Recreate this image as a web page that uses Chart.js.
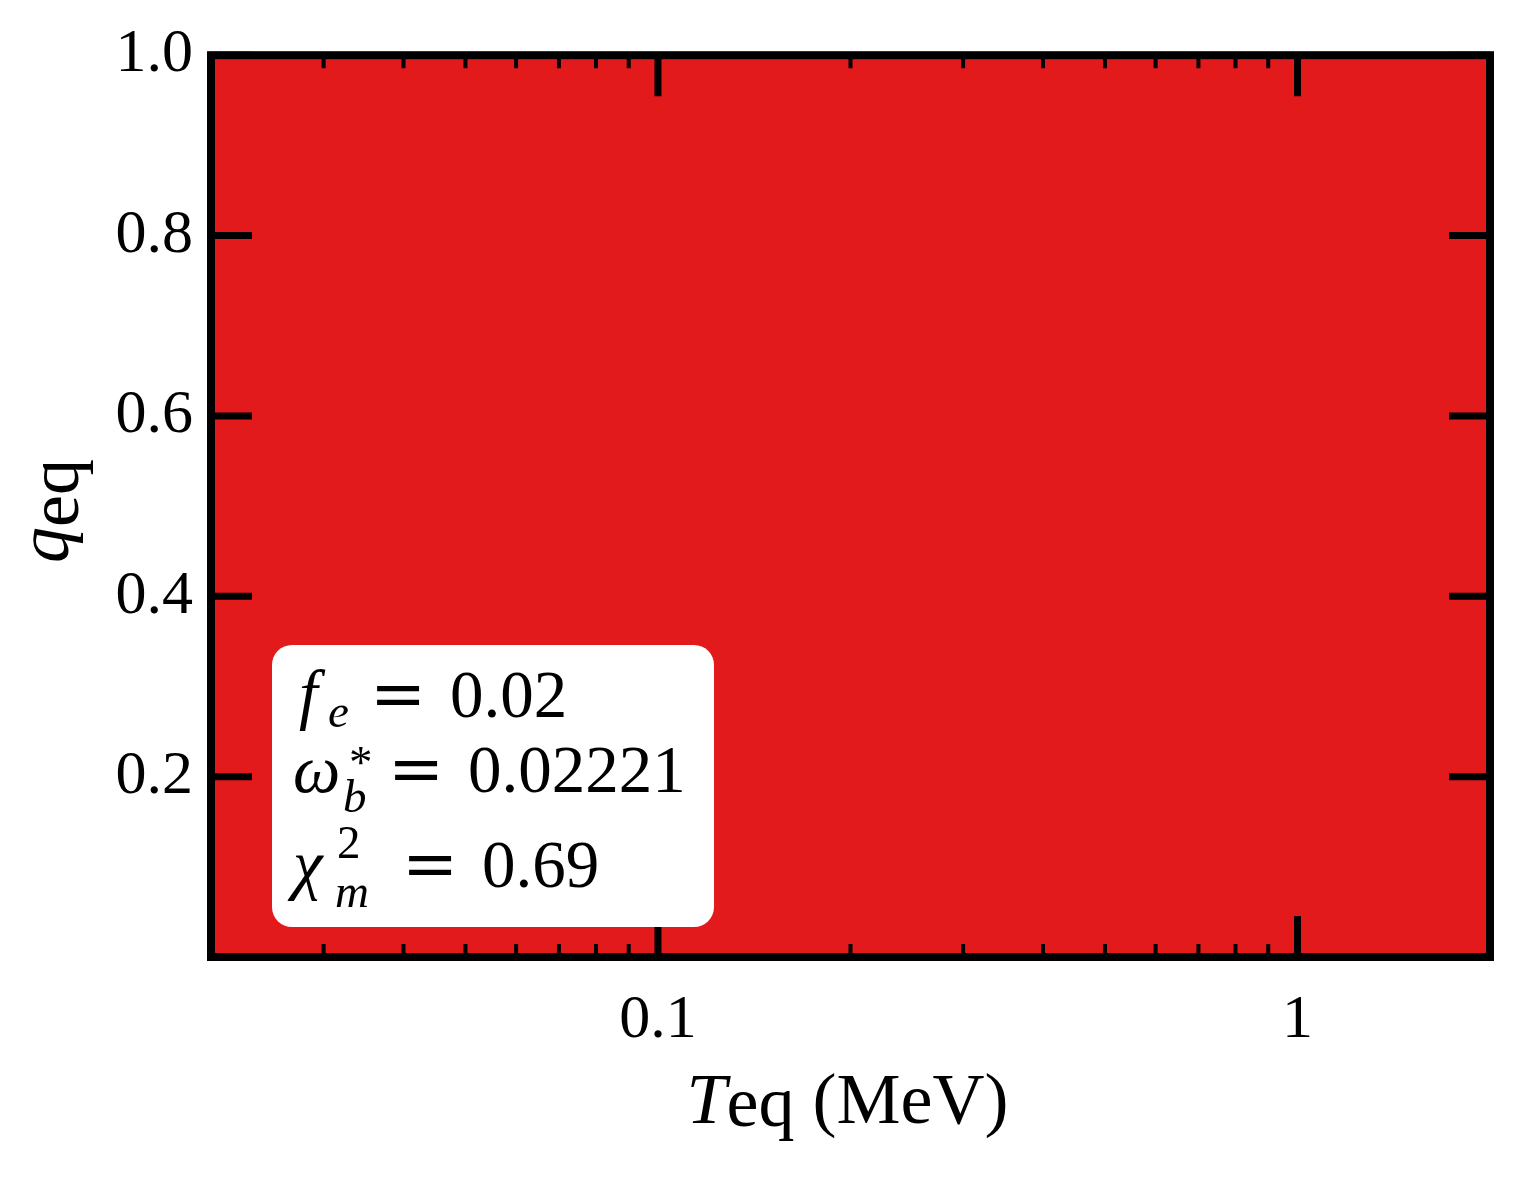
<!DOCTYPE html>
<html>
<head>
<meta charset="utf-8">
<script src="https://cdn.jsdelivr.net/npm/chart.js@4/dist/chart.umd.min.js"></script>
<style>
  html, body { margin: 0; padding: 0; background: #ffffff; }
  #wrap { width: 1519px; height: 1179px; }
</style>
</head>
<body>
<div id="wrap"><canvas id="c" width="1519" height="1179"></canvas></div>
<script>
// ---- data ----
const tEq = [0.02, 2];            // x extent of the allowed region (MeV)
const qUpper = [1, 1];            // upper boundary of region
const qLower = [0, 0];            // lower boundary of region
const xMajorTicks = [0.1, 1];
const xTickLabels = ['0.1', '1'];
const xMinorTicks = [0.03, 0.04, 0.05, 0.06, 0.07, 0.08, 0.09, 0.2, 0.3, 0.4, 0.5, 0.6, 0.7, 0.8, 0.9];
const yTicks = [0.2, 0.4, 0.6, 0.8, 1.0];
const yTickLabels = ['0.2', '0.4', '0.6', '0.8', '1.0'];
const paramFe = '0.02';
const paramOmegaB = '0.02221';
const paramChi2 = '0.69';

const RED = '#e31a1c';
const SERIF = '"Liberation Serif", "DejaVu Serif", serif';

function txt(ctx, s, x, y, size, italic, family) {
  ctx.font = (italic ? 'italic ' : '') + size + 'px ' + (family || SERIF);
  ctx.fillText(s, x, y);
  return ctx.measureText(s).width;
}

const decor = {
  id: 'decor',
  afterDraw(chart) {
    const ctx = chart.ctx;
    const a = chart.chartArea;
    const xs = chart.scales.x, ys = chart.scales.y;
    ctx.save();
    ctx.fillStyle = '#000';
    ctx.strokeStyle = '#000';
    // ticks
    const majL = 41, minL = 13;
    ctx.lineCap = 'butt';
    ctx.lineWidth = 7;
    xMajorTicks.forEach(v => {
      const px = xs.getPixelForValue(v);
      ctx.beginPath();
      ctx.moveTo(px, a.bottom); ctx.lineTo(px, a.bottom - majL);
      ctx.moveTo(px, a.top); ctx.lineTo(px, a.top + majL);
      ctx.stroke();
    });
    yTicks.forEach(v => {
      const py = ys.getPixelForValue(v);
      ctx.beginPath();
      ctx.moveTo(a.left, py); ctx.lineTo(a.left + majL, py);
      ctx.moveTo(a.right, py); ctx.lineTo(a.right - majL, py);
      ctx.stroke();
    });
    ctx.lineWidth = 4;
    xMinorTicks.forEach(v => {
      const px = xs.getPixelForValue(v);
      ctx.beginPath();
      ctx.moveTo(px, a.bottom); ctx.lineTo(px, a.bottom - minL);
      ctx.moveTo(px, a.top); ctx.lineTo(px, a.top + minL);
      ctx.stroke();
    });
    // frame
    ctx.lineWidth = 8;
    ctx.lineJoin = 'miter';
    ctx.strokeRect(a.left, a.top, a.right - a.left, a.bottom - a.top);

    // annotation box
    const bx = a.left + 61, by = 645, bw = 442, bh = 282, r = 20;
    ctx.fillStyle = '#fff';
    ctx.beginPath();
    ctx.roundRect(bx, by, bw, bh, r);
    ctx.fill();
    ctx.fillStyle = '#000';
    ctx.textBaseline = 'alphabetic';
    ctx.textAlign = 'left';
    const M = 67, S = 47;
    const x0 = bx + 21;
    const EQF = '"DejaVu Serif", serif';
    // line 1
    txt(ctx, 'f', x0 + 6, 717, M, true);
    txt(ctx, 'e', x0 + 35, 727, S, true);
    txt(ctx, '=', x0 + 77, 717, M, false, EQF);
    txt(ctx, paramFe, x0 + 157, 717, M, false);
    // line 2
    txt(ctx, '\u03c9', x0, 792, M, true);
    txt(ctx, '*', x0 + 56, 778, S, false);
    txt(ctx, 'b', x0 + 50, 812, S, true);
    txt(ctx, '=', x0 + 95, 792, M, false, EQF);
    txt(ctx, paramOmegaB, x0 + 175, 792, M, false);
    // line 3
    txt(ctx, '\u03c7', x0, 887, M, true);
    txt(ctx, '2', x0 + 44, 858, S, false);
    txt(ctx, 'm', x0 + 42, 907, S, true);
    txt(ctx, '=', x0 + 109, 887, M, false, EQF);
    txt(ctx, paramChi2, x0 + 189, 887, M, false);

    // x title: T_eq (MeV)
    const T = 72;
    ctx.font = 'italic ' + T + 'px ' + SERIF;
    const wT = ctx.measureText('T').width;
    ctx.font = T + 'px ' + SERIF;
    const wEq = ctx.measureText('eq').width;
    const wRest = ctx.measureText(' (MeV)').width;
    const total = wT + wEq + wRest;
    let cx = (a.left + a.right) / 2 - total / 2 - 3;
    const base = 1123;
    cx += txt(ctx, 'T', cx, base, T, true);
    cx += txt(ctx, 'eq', cx, base + 3, T, false);
    txt(ctx, ' (MeV)', cx, base, T, false);

    // y title: q_eq rotated
    ctx.save();
    ctx.translate(68, (a.top + a.bottom) / 2 + 5);
    ctx.rotate(-Math.PI / 2);
    ctx.font = 'italic ' + T + 'px ' + SERIF;
    const wq = ctx.measureText('q').width;
    ctx.font = T + 'px ' + SERIF;
    const weq = ctx.measureText('eq').width;
    let qx = -(wq + weq) / 2;
    qx += txt(ctx, 'q', qx, 0, T, true);
    txt(ctx, 'eq', qx, 10, T, false);
    ctx.restore();

    ctx.restore();
  }
};

new Chart(document.getElementById('c'), {
  type: 'line',
  data: {
    datasets: [
      {
        label: 'lower',
        data: tEq.map((x, i) => ({ x: x, y: qLower[i] })),
        borderWidth: 0,
        pointRadius: 0,
        fill: false
      },
      {
        label: 'allowed',
        data: tEq.map((x, i) => ({ x: x, y: qUpper[i] })),
        borderWidth: 0,
        pointRadius: 0,
        backgroundColor: RED,
        borderColor: RED,
        fill: '-1'
      }
    ]
  },
  options: {
    responsive: false,
    animation: false,
    devicePixelRatio: 1,
    layout: { padding: { left: 0, right: 29, top: 52, bottom: 0 } },
    plugins: { legend: { display: false }, tooltip: { enabled: false } },
    scales: {
      x: {
        type: 'logarithmic',
        min: 0.02,
        max: 2,
        grid: { display: false, drawTicks: false },
        border: { display: false },
        afterBuildTicks: s => { s.ticks = xMajorTicks.map(v => ({ value: v })); },
        afterFit: s => { s.height = 222; },
        ticks: {
          autoSkip: false,
          maxRotation: 0,
          padding: 27,
          color: '#000',
          font: { family: SERIF, size: 62 },
          callback: (v) => { const i = xMajorTicks.indexOf(v); return i >= 0 ? xTickLabels[i] : ''; }
        }
      },
      y: {
        type: 'linear',
        min: 0,
        max: 1,
        grid: { display: false, drawTicks: false },
        border: { display: false },
        afterBuildTicks: s => { s.ticks = yTicks.map(v => ({ value: v })); },
        afterFit: s => { s.width = 211; },
        ticks: {
          autoSkip: false,
          padding: 18,
          color: '#000',
          font: { family: SERIF, size: 62 },
          callback: (v) => { const i = yTicks.findIndex(t => Math.abs(t - v) < 1e-9); return i >= 0 ? yTickLabels[i] : ''; }
        }
      }
    }
  },
  plugins: [decor]
});
</script>
</body>
</html>
